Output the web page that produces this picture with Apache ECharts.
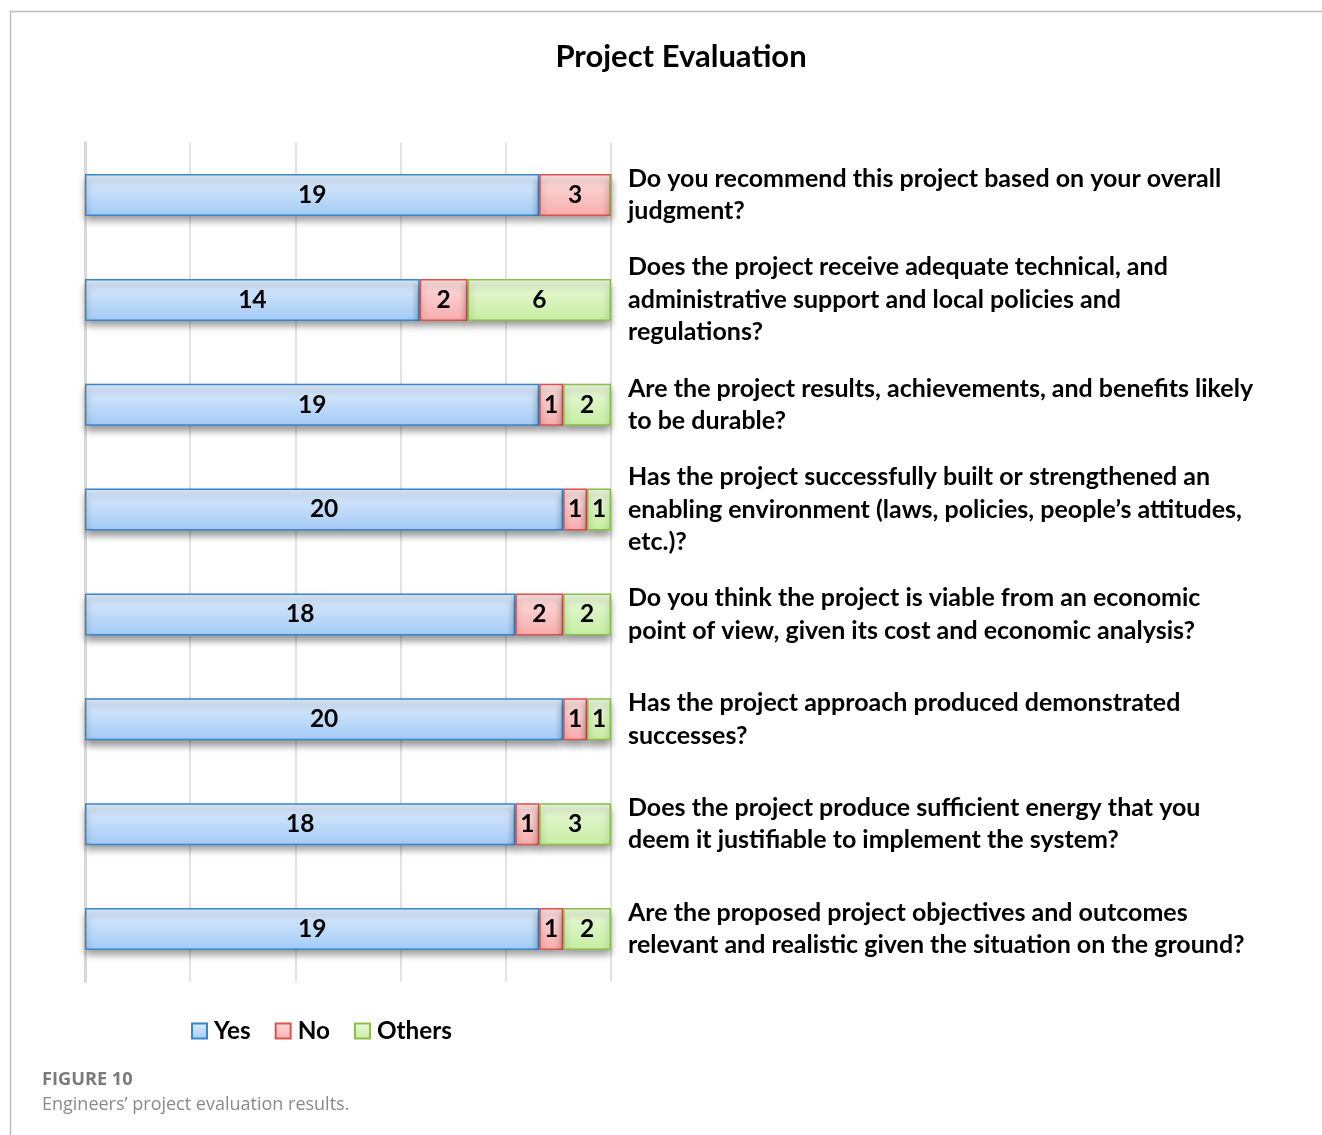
<!DOCTYPE html>
<html>
<head>
<meta charset="utf-8">
<title>Project Evaluation</title>
<script src="https://cdn.jsdelivr.net/npm/echarts@6/dist/echarts.min.js"></script>
<style>
  html, body { margin: 0; padding: 0; background: #ffffff; }
  #chart { width: 1322px; height: 1135px; }
</style>
</head>
<body>
<div id="chart"></div>
<script>
// Survey questions (top to bottom)
const questions = [
  "Do you recommend this project based on your overall\njudgment?",
  "Does the project receive adequate technical, and\nadministrative support and local policies and\nregulations?",
  "Are the project results, achievements, and benefits likely\nto be durable?",
  "Has the project successfully built or strengthened an\nenabling environment (laws, policies, people\u2019s attitudes,\netc.)?",
  "Do you think the project is viable from an economic\npoint of view, given its cost and economic analysis?",
  "Has the project approach produced demonstrated\nsuccesses?",
  "Does the project produce sufficient energy that you\ndeem it justifiable to implement the system?",
  "Are the proposed project objectives and outcomes\nrelevant and realistic given the situation on the ground?"
];

// Number of engineers giving each answer
const yesCounts    = [19, 14, 19, 20, 18, 20, 18, 19];
const noCounts     = [3, 2, 1, 1, 2, 1, 1, 1];
const othersCounts = [0, 6, 2, 1, 2, 1, 3, 2];

const seriesNames = ["Yes", "No", "Others"];
const totalResponses = 22;

const chart = echarts.init(document.getElementById('chart'), null, { renderer: 'canvas' });

function grad(top, bottom) {
  return new echarts.graphic.LinearGradient(0, 0, 0, 1, [
    { offset: 0, color: top },
    { offset: 1, color: bottom }
  ]);
}

const styles = [
  { fill: grad('#dfecfc', '#a3cbf6'), border: '#3a87c8' },
  { fill: grad('#fde0e0', '#f8acac'), border: '#d9534f' },
  { fill: grad('#ebf8dd', '#c6eea0'), border: '#8cbd4c' }
];

const valueLabel = {
  show: true,
  position: 'inside',
  fontFamily: 'Lato',
  fontWeight: 'bold',
  fontSize: 24.5,
  color: '#000000',
  formatter: p => (p.value ? String(p.value) : '')
};

function makeSeries(name, values, st) {
  return {
    name: name,
    type: 'bar',
    stack: 'answers',
    barWidth: 42,
    yAxisIndex: 0,
    data: values,
    label: valueLabel,
    itemStyle: {
      color: st.fill,
      borderColor: st.border,
      borderWidth: 1.5,
      shadowColor: 'rgba(0,0,0,0.4)',
      shadowBlur: 7,
      shadowOffsetY: 5
    },
    emphasis: { disabled: true }
  };
}

const option = {
  backgroundColor: '#ffffff',
  animation: false,
  title: {
    text: 'Project Evaluation',
    left: 676,
    textAlign: 'center',
    top: 36,
    textStyle: {
      fontFamily: 'Lato',
      fontWeight: 'bold',
      fontSize: 31,
      color: '#000000'
    }
  },
  legend: {
    data: seriesNames,
    left: 186,
    top: 1014,
    icon: 'rect',
    itemWidth: 15,
    itemHeight: 15,
    itemGap: 24,
    textStyle: {
      fontFamily: 'Lato',
      fontWeight: 'bold',
      fontSize: 24.3,
      color: '#000000',
      padding: [0, 0, 0, 2]
    }
  },
  grid: {
    left: 85,
    right: 711,
    top: 142.6,
    bottom: 153.6,
    containLabel: false
  },
  xAxis: {
    type: 'value',
    min: 0,
    max: totalResponses,
    interval: 4.4,
    axisLine: { show: false },
    axisTick: { show: false },
    axisLabel: { show: false },
    splitLine: { show: true, lineStyle: { color: '#d9d9d9', width: 1.5 } }
  },
  yAxis: [
    {
      type: 'category',
      data: questions,
      inverse: true,
      position: 'right',
      axisLine: { show: false },
      axisTick: { show: false },
      axisLabel: {
        show: true,
        align: 'left',
        margin: 17,
        fontFamily: 'Lato',
        fontWeight: 'bold',
        fontSize: 25,
        lineHeight: 32.5,
        color: '#000000'
      }
    },
    {
      type: 'category',
      data: questions,
      inverse: true,
      position: 'left',
      axisLine: { show: true, lineStyle: { color: '#d9d9d9', width: 3 } },
      axisTick: { show: false },
      axisLabel: { show: false }
    }
  ],
  series: [
    makeSeries('Yes', yesCounts, styles[0]),
    makeSeries('No', noCounts, styles[1]),
    makeSeries('Others', othersCounts, styles[2])
  ],
  graphic: [
    {
      type: 'polyline',
      shape: { points: [[10.5, 1135], [10.5, 11.5], [1322, 11.5]] },
      style: { stroke: '#bdbdbd', lineWidth: 1.5, fill: null },
      silent: true
    },
    {
      type: 'text',
      left: 42,
      top: 1071,
      style: {
        text: 'FIGURE 10',
        fontFamily: 'Open Sans',
        fontWeight: 'bold',
        fontSize: 18.2,
        fill: '#7a7a7a'
      }
    },
    {
      type: 'text',
      left: 42,
      top: 1096,
      style: {
        text: 'Engineers\u2019 project evaluation results.',
        fontFamily: 'Open Sans',
        fontSize: 18,
        fill: '#8a8a8a'
      }
    }
  ]
};

chart.setOption(option);
</script>
</body>
</html>
